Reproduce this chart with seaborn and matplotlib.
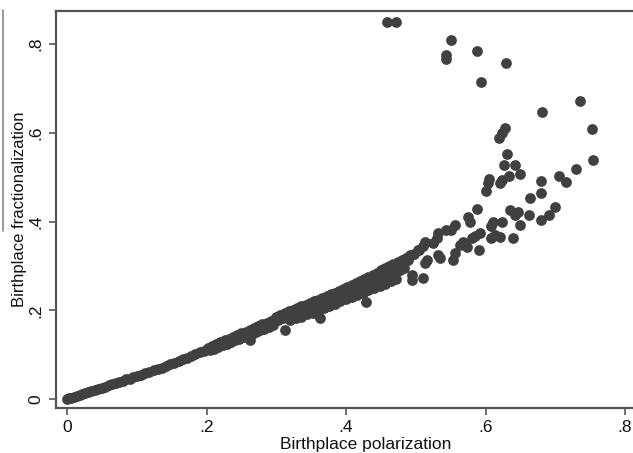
import matplotlib.pyplot as plt
import pandas as pd
import seaborn as sns
from matplotlib.lines import Line2D


# dense band (0 to .2: one row of dots)
band_x = [
    0.000, 0.003, 0.006, 0.010, 0.014, 0.018, 0.022, 0.026, 0.030, 0.035,
    0.040, 0.045, 0.050, 0.055, 0.060, 0.065, 0.070, 0.075, 0.080, 0.085,
    0.090, 0.095, 0.100, 0.106, 0.112, 0.118, 0.124, 0.130, 0.136, 0.142,
    0.148, 0.154, 0.160, 0.166, 0.172, 0.178, 0.184, 0.190, 0.196,
    # .2 to .3, two rows
    0.202, 0.208, 0.214, 0.220, 0.226, 0.232, 0.238, 0.244, 0.250, 0.256,
    0.262, 0.268, 0.274, 0.280, 0.286, 0.292, 0.298,
    0.205, 0.211, 0.217, 0.223, 0.229, 0.235, 0.241, 0.247, 0.253, 0.259,
    0.265, 0.271, 0.277, 0.283, 0.289, 0.295,
    # .3 to .51, three rows
    0.300, 0.306, 0.312, 0.318, 0.324, 0.330, 0.336, 0.342, 0.348, 0.354,
    0.360, 0.366, 0.372, 0.378, 0.384, 0.390, 0.396, 0.402, 0.408, 0.414,
    0.420, 0.426, 0.432, 0.438, 0.444, 0.450, 0.456, 0.462, 0.468, 0.474,
    0.480, 0.486, 0.492, 0.498, 0.504, 0.510,
    0.303, 0.309, 0.315, 0.321, 0.327, 0.333, 0.339, 0.345, 0.351, 0.357,
    0.363, 0.369, 0.375, 0.381, 0.387, 0.393, 0.399, 0.405, 0.411, 0.417,
    0.423, 0.429, 0.435, 0.441, 0.447, 0.453, 0.459, 0.465, 0.471, 0.477,
    0.483,
    0.320, 0.328, 0.336, 0.344, 0.352, 0.360, 0.368, 0.376, 0.384, 0.392,
    0.400, 0.408, 0.416, 0.424, 0.432, 0.440, 0.448, 0.456, 0.464, 0.472,
    # bumps under the band
    0.262, 0.312, 0.362, 0.428,
]
band_y = [
    0.000, 0.002, 0.003, 0.005, 0.007, 0.009, 0.011, 0.013, 0.015, 0.018,
    0.020, 0.023, 0.025, 0.028, 0.031, 0.033, 0.036, 0.038, 0.041, 0.044,
    0.046, 0.049, 0.052, 0.055, 0.058, 0.061, 0.065, 0.068, 0.071, 0.075,
    0.078, 0.082, 0.086, 0.090, 0.093, 0.097, 0.101, 0.105, 0.109,
    0.116, 0.120, 0.124, 0.128, 0.132, 0.136, 0.140, 0.144, 0.148, 0.152,
    0.156, 0.160, 0.164, 0.168, 0.172, 0.176, 0.180,
    0.110, 0.113, 0.117, 0.121, 0.124, 0.128, 0.132, 0.136, 0.139, 0.143,
    0.147, 0.151, 0.155, 0.158, 0.162, 0.166,
    0.186, 0.190, 0.194, 0.198, 0.201, 0.205, 0.209, 0.213, 0.217, 0.221,
    0.224, 0.228, 0.232, 0.236, 0.240, 0.244, 0.248, 0.252, 0.257, 0.261,
    0.266, 0.270, 0.274, 0.279, 0.283, 0.292, 0.296, 0.300, 0.305, 0.310,
    0.314, 0.319, 0.324, 0.328, 0.336, 0.345,
    0.179, 0.183, 0.187, 0.190, 0.193, 0.196, 0.200, 0.204, 0.207, 0.211,
    0.215, 0.219, 0.222, 0.226, 0.230, 0.234, 0.238, 0.242, 0.246, 0.250,
    0.254, 0.258, 0.262, 0.266, 0.270, 0.274, 0.278, 0.282, 0.286, 0.290,
    0.295,
    0.178, 0.182, 0.186, 0.191, 0.195, 0.200, 0.205, 0.210, 0.215, 0.220,
    0.225, 0.230, 0.235, 0.240, 0.245, 0.250, 0.255, 0.260, 0.265, 0.270,
    0.133, 0.156, 0.182, 0.218,
]

# scattered places above x = .45
spread_x = [
    0.459, 0.471, 0.550, 0.543, 0.544, 0.588, 0.629, 0.593, 0.736, 0.681,
    0.752, 0.628, 0.623, 0.619, 0.631, 0.754, 0.626, 0.642, 0.649, 0.634,
    0.623, 0.620, 0.605, 0.603, 0.600, 0.729, 0.705, 0.716, 0.679, 0.679,
    0.664, 0.635, 0.647, 0.642, 0.662, 0.699, 0.691, 0.679, 0.649, 0.640,
    0.611, 0.623, 0.608, 0.613, 0.620, 0.608, 0.588, 0.575, 0.577, 0.556,
    0.551, 0.544, 0.592, 0.585, 0.580, 0.568, 0.563, 0.573, 0.591, 0.556,
    0.553, 0.532, 0.530, 0.513, 0.503, 0.532, 0.534, 0.516, 0.513, 0.511,
    0.494, 0.494, 0.489, 0.482, 0.525,
]
spread_y = [
    0.851, 0.849, 0.809, 0.776, 0.767, 0.785, 0.758, 0.714, 0.673, 0.648,
    0.608, 0.610, 0.599, 0.589, 0.552, 0.539, 0.528, 0.528, 0.507, 0.503,
    0.494, 0.486, 0.495, 0.486, 0.469, 0.518, 0.503, 0.490, 0.492, 0.465,
    0.454, 0.426, 0.422, 0.415, 0.415, 0.434, 0.415, 0.404, 0.392, 0.364,
    0.400, 0.400, 0.389, 0.370, 0.366, 0.362, 0.428, 0.411, 0.400, 0.392,
    0.381, 0.381, 0.374, 0.368, 0.362, 0.355, 0.347, 0.343, 0.336, 0.329,
    0.313, 0.374, 0.362, 0.355, 0.336, 0.325, 0.317, 0.313, 0.306, 0.272,
    0.280, 0.268, 0.313, 0.298, 0.351,
]

x_ticks = [0, 0.2, 0.4, 0.6, 0.8]
x_tick_labels = ["0", ".2", ".4", ".6", ".8"]
y_ticks = [0, 0.2, 0.4, 0.6, 0.8]
y_tick_labels = ["0", ".2", ".4", ".6", ".8"]

W, H = 633, 453


def main() -> None:
    sns.set_style("white")
    plt.rcParams["font.family"] = ["Liberation Sans", "DejaVu Sans"]

    df = pd.DataFrame({
        "polarization": band_x + spread_x,
        "fractionalization": band_y + spread_y,
    })

    fig = plt.figure(figsize=(W / 100, H / 100), dpi=100)
    ax = fig.add_axes([56 / W, 1 - 408 / H, 620 / W, 397 / H])

    sns.scatterplot(
        data=df, x="polarization", y="fractionalization", ax=ax,
        color="#404040", s=60, linewidth=0, alpha=1,
    )

    ax.set_xlim(-0.0158, 0.873)
    ax.set_ylim(-0.0203, 0.8749)
    ax.set_xticks(x_ticks)
    ax.set_xticklabels(x_tick_labels)
    ax.set_yticks(y_ticks)
    ax.set_yticklabels(y_tick_labels, rotation=90, va="center")
    ax.tick_params(axis="both", direction="out", length=5, width=1.2,
                   color="#555555", labelsize=12.5, labelcolor="#111111",
                   bottom=True, left=True)
    ax.tick_params(axis="x", pad=4)
    ax.tick_params(axis="y", pad=4)

    for side in ["left", "bottom", "top"]:
        ax.spines[side].set_color("#555555")
        ax.spines[side].set_linewidth(1.6)
    ax.spines["right"].set_visible(False)

    ax.set_xlabel("Birthplace polarization", fontsize=12.5, color="#111111")
    ax.set_ylabel("Birthplace fractionalization", fontsize=12, color="#111111")
    ax.xaxis.set_label_coords(0.5, -0.072)
    ax.yaxis.set_label_coords(-0.047, 0.5)

    fig.add_artist(Line2D([3 / W, 3 / W], [1 - 10 / H, 1 - 231 / H],
                          color="#888888", linewidth=1.2))

    fig.savefig("out.png", dpi=100)
    plt.close(fig)


if __name__ == "__main__":
    main()
